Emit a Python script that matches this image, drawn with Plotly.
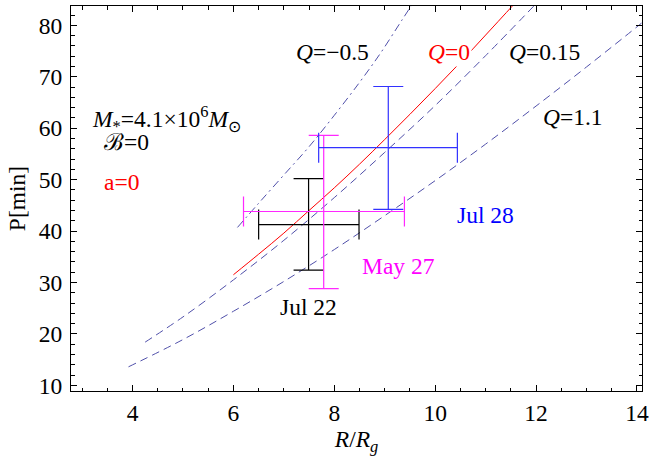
import plotly.graph_objects as go

# ---- data ----
# Q = 0 (red, solid)
q0_R = [6.0, 6.5, 7.0, 7.5, 8.0, 8.5, 9.0, 9.5, 10.0, 10.5, 11.0, 11.6]
q0_P = [31.5, 35.5, 39.6, 44.0, 48.4, 53.0, 57.8, 62.7, 67.7, 72.8, 78.1, 84.5]
# Q = -0.5 (dash-dot)
qm05_R = [6.08, 6.5, 7.0, 7.5, 8.0, 8.5, 8.91, 9.34, 9.6]
qm05_P = [40.7, 45.4, 50.9, 56.4, 62.5, 68.9, 74.5, 81.0, 84.9]
# Q = 0.15 (dashed)
q015_R = [4.25, 5.0, 6.0, 7.0, 8.0, 9.0, 10.0, 11.0, 12.0]
q015_P = [18.4, 23.3, 30.5, 38.2, 46.5, 55.3, 64.4, 74.1, 84.2]
# Q = 1.1 (dashed)
q11_R = [3.92, 5.0, 6.0, 7.0, 8.0, 9.0, 10.0, 11.0, 12.0, 13.0, 14.0, 14.3]
q11_P = [13.6, 18.9, 24.4, 30.2, 36.4, 43.0, 49.8, 56.9, 64.3, 71.9, 79.7, 82.1]

# observations: centre, errors (plus / minus)
obs_names = ["Jul 22", "May 27", "Jul 28"]
obs_R = [7.49, 7.79, 9.07]
obs_R_plus = [1.0, 1.6, 1.37]
obs_R_minus = [0.99, 1.59, 1.38]
obs_P = [41.25, 43.8, 56.2]
obs_P_plus = [8.95, 14.8, 11.9]
obs_P_minus = [8.85, 15.0, 12.0]
obs_colors = ["black", "rgb(255,40,255)", "rgb(50,50,255)"]
obs_label_colors = ["black", "rgb(255,0,255)", "rgb(0,0,255)"]
obs_label_R = [7.48, 9.27, 10.99]
obs_label_P = [25.2, 33.3, 43.1]

x_ticks = [4, 6, 8, 10, 12, 14]
y_ticks = [10, 20, 30, 40, 50, 60, 70, 80]

FONT = "Liberation Serif, Times New Roman, serif"
FS = 23.5
CURVE = "rgb(80,80,170)"

fig = go.Figure()

fig.add_trace(go.Scatter(x=qm05_R, y=qm05_P, mode="lines", line=dict(color=CURVE, width=1, dash="8px,4px,2px,4px"), line_shape="spline", hoverinfo="skip"))
fig.add_trace(go.Scatter(x=q015_R, y=q015_P, mode="lines", line=dict(color=CURVE, width=1, dash="8px,5px"), line_shape="spline", hoverinfo="skip"))
fig.add_trace(go.Scatter(x=q11_R, y=q11_P, mode="lines", line=dict(color=CURVE, width=1, dash="8px,5px"), line_shape="spline", hoverinfo="skip"))
fig.add_trace(go.Scatter(x=q0_R, y=q0_P, mode="lines", line=dict(color="red", width=1), line_shape="spline", hoverinfo="skip"))

for i in range(len(obs_names)):
    fig.add_trace(go.Scatter(
        x=[obs_R[i]], y=[obs_P[i]], mode="markers",
        marker=dict(size=1, color=obs_colors[i], opacity=0),
        error_x=dict(type="data", symmetric=False, array=[obs_R_plus[i]], arrayminus=[obs_R_minus[i]],
                     color=obs_colors[i], thickness=1.2, width=15),
        error_y=dict(type="data", symmetric=False, array=[obs_P_plus[i]], arrayminus=[obs_P_minus[i]],
                     color=obs_colors[i], thickness=1.2, width=15),
        hoverinfo="skip"))
    fig.add_annotation(x=obs_label_R[i], y=obs_label_P[i], text=obs_names[i], showarrow=False,
                       font=dict(family=FONT, size=FS, color=obs_label_colors[i]))

ann = [
    (7.96, 74.8, "<i>Q</i>=\u22120.5", "black", None),
    (10.28, 74.8, "<i>Q</i>=0", "red", "white"),
    (12.16, 74.8, "<i>Q</i>=0.15", "black", None),
    (12.73, 62.2, "<i>Q</i>=1.1", "black", None),
    (4.68, 61.8, "<i>M</i><sub>*</sub>=4.1\u00d710<sup>6</sup><i>M</i><sub>\u2299</sub>", "black", None),
    (3.89, 57.3, "\u212c=0", "black", None),
    (3.78, 49.6, "a=0", "red", None),
]
for x, y, t, c, bg in ann:
    kw = dict(bgcolor=bg) if bg else {}
    fig.add_annotation(x=x, y=y, text=t, showarrow=False, font=dict(family=FONT, size=FS, color=c), **kw)

axis_common = dict(showline=True, linecolor="black", linewidth=1, mirror="allticks",
                   ticks="inside", ticklen=6, tickcolor="black", tickwidth=1,
                   showgrid=False, zeroline=False,
                   tickfont=dict(family=FONT, size=FS, color="black"))

fig.update_xaxes(range=[2.78, 14.1], tickvals=x_ticks, ticktext=[str(v) for v in x_ticks],
                 minor=dict(ticks="inside", ticklen=3.5, dtick=0.5, tick0=0, tickcolor="black", showgrid=False),
                 ticklabelstandoff=1,
                 title=dict(text="<i>R</i>/<i>R</i><sub><i>g</i></sub>", font=dict(family=FONT, size=FS, color="black"), standoff=4),
                 **axis_common)
fig.update_yaxes(range=[8.9, 83.75], tickvals=y_ticks, ticktext=[str(v) for v in y_ticks],
                 minor=dict(ticks="inside", ticklen=3.5, dtick=2, tick0=0, tickcolor="black", showgrid=False),
                 ticklabelstandoff=3,
                 title=dict(text="P[min]", font=dict(family=FONT, size=FS, color="black"), standoff=6),
                 **axis_common)

fig.update_layout(width=649, height=462, margin=dict(l=71, r=7, t=6, b=71, autoexpand=False),
                  plot_bgcolor="white", paper_bgcolor="white", showlegend=False)

fig.write_html("out.html", config={"displayModeBar": False, "staticPlot": True},
               post_script="document.body.style.margin='0';document.body.style.overflow='hidden';")
